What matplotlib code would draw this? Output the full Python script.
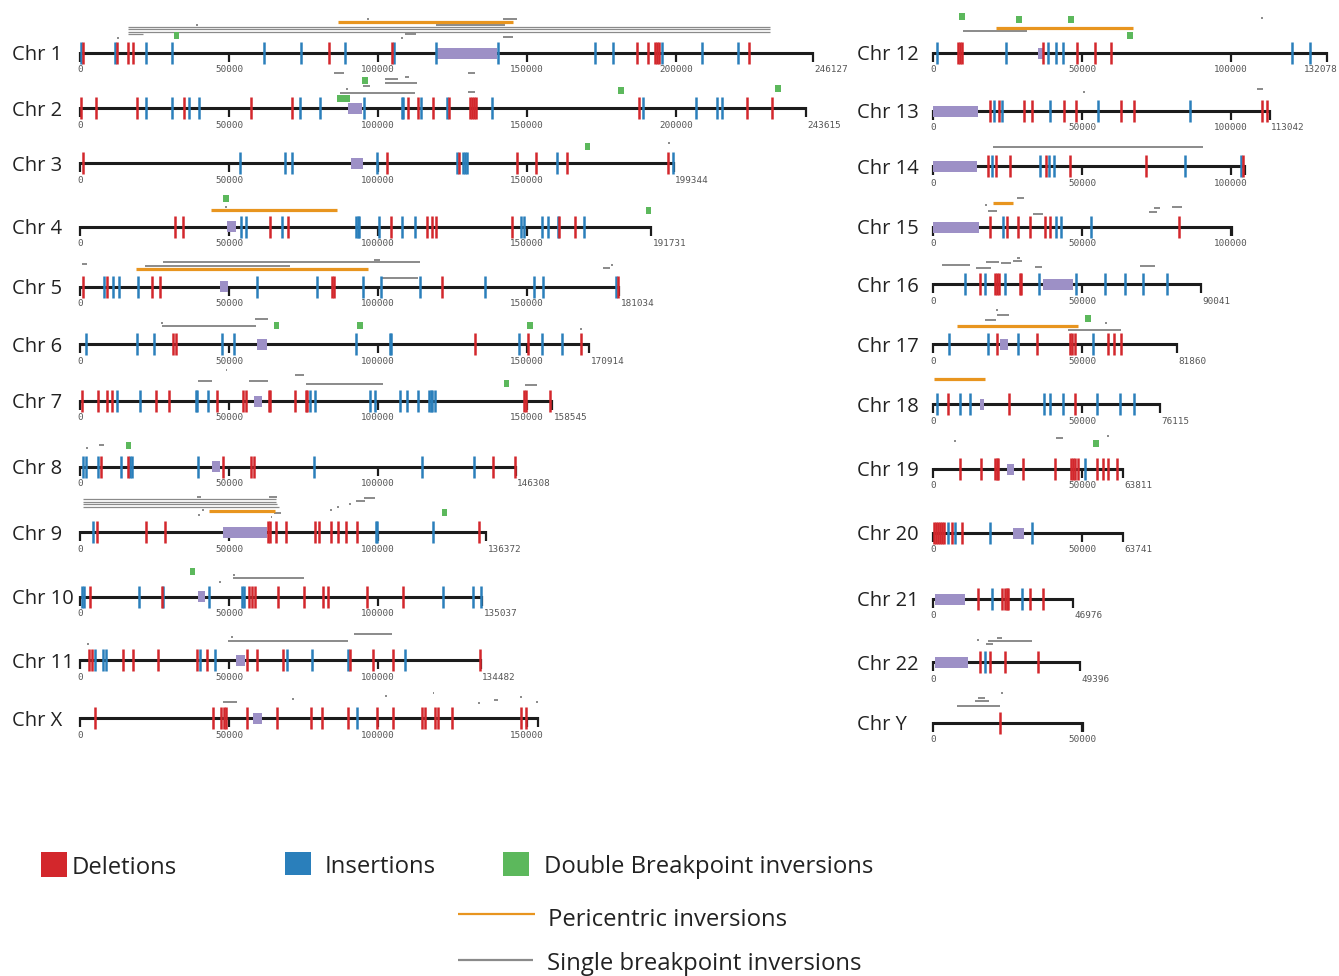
import matplotlib
matplotlib.use("Agg")
import matplotlib.pyplot as plt

# ── data (positions in bp) ───────────────────────────────────────────────────

left_chroms = ["1", "2", "3", "4", "5", "6", "7", "8", "9", "10", "11", "X"]
right_chroms = ["12", "13", "14", "15", "16", "17", "18", "19", "20", "21", "22", "Y"]

lengths = {
    "1": 246127, "2": 243615, "3": 199344, "4": 191731, "5": 181034, "6": 170914,
    "7": 158545, "8": 146308, "9": 136372, "10": 135037, "11": 134482, "X": 153800,
    "12": 132078, "13": 113042, "14": 104700, "15": 100300, "16": 90041, "17": 81860,
    "18": 76115, "19": 63811, "20": 63741, "21": 46976, "22": 49396, "Y": 50300,
}
# chromosomes whose length is printed at the end
length_labelled = ["1", "2", "3", "4", "5", "6", "7", "8", "9", "10", "11",
                   "12", "13", "16", "17", "18", "19", "20", "21", "22"]

deletions = {
    "1": [1100, 12500, 16000, 17700, 83660, 104700, 186800, 190600, 192900, 193600, 194300, 224400],
    "2": [335, 5260, 19000, 34900, 57280, 71040, 110200, 113500, 118300, 123900, 131000, 131600,
          132200, 132900, 187700, 224000, 232400],
    "3": [1100, 102900, 127200, 146500, 153000, 163600, 197200],
    "4": [31880, 34450, 63760, 69900, 104250, 116500, 118000, 119500, 145000, 160900, 166100],
    "5": [1100, 8950, 24250, 26850, 84600, 85100, 121400, 180700],
    "6": [31070, 32070, 132550, 150400, 168100],
    "7": [560, 5940, 8950, 10600, 25390, 29980, 46100, 54560, 55700, 63300, 63800, 72150, 75800,
          76300, 149100, 149600, 157700],
    "8": [6950, 16200, 47850, 57300, 58400, 138500, 145970],
    "9": [5800, 22000, 28500, 63000, 63700, 65800, 69130, 78860, 80300, 84200, 86450, 89150, 92800,
          134000],
    "10": [3360, 27400, 56700, 57800, 58830, 66550, 75170, 81650, 83330, 96200, 108500],
    "11": [3120, 3920, 14300, 17900, 26300, 39400, 42700, 56100, 59300, 68000, 90600, 98400,
           105100, 134300],
    "X": [5030, 44730, 47300, 48300, 49000, 56100, 66000, 77400, 81100, 89800, 99550, 105150,
          114650, 115770, 119130, 120240, 125000, 147900, 149700],
    "12": [8400, 9060, 9700, 36900, 48300, 54400, 59700],
    "13": [19100, 22100, 30500, 33200, 44000, 48000, 63100, 67400, 110400, 112000],
    "14": [18450, 21100, 25800, 37900, 46000, 71500, 104000],
    "15": [19100, 24800, 28500, 32600, 37600, 39300, 82600],
    "16": [15800, 20800, 21500, 22200, 29200, 29700],
    "17": [21500, 34900, 46000, 46700, 47700, 58700, 60700, 63100],
    "18": [5000, 25500, 47600],
    "19": [9060, 16100, 20800, 21400, 21800, 30200, 41000, 46300, 47000, 47650, 48700, 55000,
           57050, 58700, 61700],
    "20": [300, 1000, 1700, 2400, 3100, 3700, 6400, 9700],
    "21": [15100, 23300, 24000, 24700, 25300, 32600, 36900],
    "22": [15800, 19100, 24200, 35200],
    "Y": [22500],
}

insertions = {
    "1": [335, 11900, 22150, 31000, 61750, 74160, 88930, 105270, 119460, 140370, 172800, 179000,
          195400, 208700, 220700],
    "2": [22150, 30760, 36700, 39930, 73800, 80540, 95300, 107900, 108500, 114300, 123000, 138150,
          188800, 206600, 213900, 215300],
    "3": [53700, 68800, 71040, 99550, 126400, 128600, 129300, 130000, 160200, 199100],
    "4": [53900, 55700, 67680, 92600, 93200, 93700, 100300, 108150, 112400, 147900, 149100, 155200,
          156900, 160500, 169100],
    "5": [8150, 11200, 13100, 19600, 59300, 79400, 94850, 101000, 114100, 135900, 152400, 155500,
          179800],
    "6": [1900, 19000, 24800, 47550, 51800, 92600, 104000, 104400, 147300, 154900, 161600],
    "7": [12300, 20130, 38900, 39400, 43060, 77180, 78860, 97300, 99000, 107400, 109600, 113400,
          117200, 117700, 118100, 119100],
    "8": [900, 2000, 5940, 13600, 16900, 17400, 39500, 78600, 114650, 132200],
    "9": [4470, 99300, 99800, 118570],
    "10": [800, 1400, 19700, 27700, 43400, 54500, 55100, 121900, 132000, 134600],
    "11": [5030, 7800, 8600, 40300, 45300, 69550, 77700, 90000, 109060],
    "X": [93060],
    "12": [1300, 24500, 38600, 41300, 43600, 120500, 126500],
    "13": [20400, 23100, 39300, 55400, 86200],
    "14": [19700, 35900, 38900, 40600, 84600, 103500],
    "15": [23500, 41300, 42900, 53000],
    "16": [10700, 17500, 24200, 35600, 48000, 57700, 64400, 70500, 78500],
    "17": [5400, 18500, 28500, 53700],
    "18": [1300, 9000, 12400, 37200, 39300, 43600, 55000, 62800, 67400],
    "19": [51000],
    "20": [5000, 7400, 19100, 33200],
    "21": [19800, 29900],
    "22": [17500],
    "Y": [],
}

centromeres = {
    "1": (119800, 140000), "2": (90040, 94520), "3": (90800, 95000), "4": (49400, 52300),
    "5": (47000, 49800), "6": (59500, 62600), "7": (58400, 61100), "8": (44200, 47000),
    "9": (47850, 62600), "10": (39700, 41900), "11": (52350, 55370), "X": (58170, 61200),
    "12": (35200, 37200), "13": (0, 15100), "14": (0, 14800), "15": (0, 15400),
    "16": (36900, 47000), "17": (22500, 25200), "18": (15800, 17100), "19": (24800, 27200),
    "20": (26800, 30500), "21": (700, 10700), "22": (700, 11700),
}

double_bp = {
    "1": [(31400, 33100)],
    "2": [(86100, 90600), (94600, 96600), (180600, 182400), (233400, 235200)],
    "3": [(169400, 171200)],
    "4": [(48100, 49900), (189800, 191600)],
    "6": [(65100, 66900), (93100, 94900), (150100, 151900)],
    "7": [(142300, 144100)],
    "8": [(15300, 17100)],
    "9": [(121400, 123200)],
    "10": [(36800, 38600)],
    "12": [(8800, 10600), (28000, 29800), (45400, 47200), (65200, 67000)],
    "17": [(51100, 52900)],
    "19": [(53800, 55600)],
}

pericentric = {
    "1": [(86600, 145300)],
    "4": [(44100, 86400)],
    "5": [(18800, 96700)],
    "9": [(43300, 65400)],
    "12": [(21100, 67100)],
    "15": [(20100, 26800)],
    "17": [(8050, 48700)],
    "18": [(300, 17400)],
}

single_bp = {
    "1": [(16100, 231500), (16100, 231500), (16100, 231500), (16100, 21100), (119500, 142600),
          (142000, 146600), (109000, 112800), (142000, 145300), (39000, 39600), (12500, 13100),
          (107800, 108400), (96400, 97000)],
    "2": [(87250, 112400), (102300, 106700), (102300, 113000), (109200, 110500), (85400, 88700),
          (95000, 97300), (130300, 132700), (130300, 132700), (89300, 89900)],
    "3": [(197400, 198000)],
    "4": [(48700, 49300)],
    "5": [(600, 2200), (27900, 114100), (21800, 70500), (101000, 113500), (98500, 100800),
          (175500, 178000), (178300, 178900)],
    "6": [(27400, 59060), (58700, 63200), (27300, 27900), (167800, 168400)],
    "7": [(39700, 44200), (56800, 63200), (75800, 101600), (72000, 75200), (149300, 153500),
          (48900, 49500)],
    "8": [(6500, 8000), (2150, 2750)],
    "9": [(900, 65800), (900, 65800), (900, 66100), (900, 66800), (39400, 40600), (63400, 66000),
          (65000, 67400), (39700, 40300), (41100, 41700), (64000, 64600), (83900, 84500),
          (86200, 86800), (90300, 90900), (92600, 95650), (95300, 99000)],
    "10": [(51440, 75170), (46700, 47300), (51400, 52000)],
    "11": [(49800, 89800), (92050, 104600), (50600, 51200), (2300, 2900)],
    "X": [(47850, 52550), (138900, 140300), (71300, 71900), (102300, 102900), (118300, 118900),
          (133700, 134300), (147700, 148300), (153200, 153800)],
    "12": [(10100, 31500), (110100, 110700)],
    "13": [(108700, 110700), (50400, 51000)],
    "14": [(20100, 90600)],
    "15": [(28200, 30500), (18500, 21500), (33600, 37000), (74200, 76200), (72500, 75200),
           (80300, 83600), (17500, 18100)],
    "16": [(3000, 12400), (14400, 19500), (17800, 22100), (22800, 26200), (26900, 29900),
           (28200, 29200), (34200, 36600), (69500, 74500)],
    "17": [(45300, 63100), (21500, 25500), (17500, 21000), (21200, 21800), (57700, 58300)],
    "19": [(41300, 43600), (7100, 7700), (58400, 59000)],
    "22": [(18500, 33200), (21500, 23200), (17800, 20100), (14800, 15400)],
    "Y": [(8000, 22500), (14100, 18800), (15100, 17500), (22900, 23500)],
}

# ── layout (pixels) ──────────────────────────────────────────────────────────

W, H = 1339, 976
BP_PER_PX = 335.6
left_origin, right_origin = 80, 933
left_rows = [53, 108.3, 163.3, 226.7, 286.7, 344.3, 401, 466.7, 532.3, 596.7, 660, 718.3]
right_rows = [53, 111, 166, 227, 284, 344, 404, 469, 533, 599, 662, 723]

# vertical offset (px, negative = above the chromosome) of each inversion mark
double_bp_lane = {
    "1": [-17.5], "2": [-9.5, -27.8, -17.6, -20], "3": [-17.3], "4": [-28.4, -16],
    "6": [-19.3, -19.3, -19.3], "7": [-17.7], "8": [-21], "9": [-20], "10": [-25.7],
    "12": [-37, -34, -34, -18], "17": [-26], "19": [-26],
}
pericentric_lane = {
    "1": [-31], "4": [-16.7], "5": [-17.7], "9": [-21.3], "12": [-25], "15": [-24],
    "17": [-18], "18": [-25],
}
single_bp_lane = {
    "1": [-26, -23.6, -21.2, -18.8, -28, -34.4, -18.7, -16, -27.7, -15, -15, -34.4],
    "2": [-15.6, -29, -25.6, -31.6, -35, -22.3, -35, -16.6, -19],
    "3": [-20],
    "4": [-19.7],
    "5": [-22.4, -24.4, -20.7, -8.4, -26.7, -19, -22],
    "6": [-18.6, -25, -21.6, -15.3],
    "7": [-20.3, -20.3, -17, -26, -16, -31],
    "8": [-21.7, -19],
    "9": [-33, -30.5, -28, -25.5, -35.6, -35.6, -19, -17.3, -22.3, -15.6, -22.3, -25, -28.3,
          -31.3, -34.6],
    "10": [-18.4, -15, -21.7],
    "11": [-19.3, -25.7, -22.7, -16],
    "X": [-16.6, -18.3, -19.3, -22.3, -25.6, -15, -21, -16.6],
    "12": [-22, -35],
    "13": [-22, -19],
    "14": [-19],
    "15": [-29, -16, -13, -19, -15, -20, -22],
    "16": [-19, -16, -22, -21, -23, -26, -17, -18],
    "17": [-14, -29, -24, -34, -21],
    "19": [-31, -28, -33],
    "22": [-21, -24, -18, -22],
    "Y": [-17, -22, -25, -30],
}
# tightly stacked lines drawn thinner so they stay separate
thin_single = {"1": [0, 1, 2, 3], "9": [0, 1, 2, 3]}
# length labels that would run off the figure are right-aligned at the edge
edge_labels = {"12": 1338}

RED, BLUE, GREEN = "#d3272c", "#2a7fbb", "#5cb85c"
ORANGE, GREY, PURPLE, BLACK = "#e8951f", "#8a8a8a", "#9d90c6", "#1c1c1c"

plt.rcParams["font.family"] = ["Open Sans", "DejaVu Sans"]
fig = plt.figure(figsize=(W / 100, H / 100), dpi=100)
fig.patch.set_facecolor("white")


def column_axes(x0, x1, origin):
    ax = fig.add_axes([x0 / W, 0, (x1 - x0) / W, 1])
    ax.set_xlim((x0 - origin) * BP_PER_PX, (x1 - origin) * BP_PER_PX)
    ax.set_ylim(H, 0)
    ax.axis("off")
    return ax, origin


def draw_chrom(col, name, y):
    ax, origin = col
    L = lengths[name]
    small = dict(va="center", fontsize=6.7, family="DejaVu Sans Mono", color="#555555")
    ax.hlines(y, 0, L, color=BLACK, lw=2.2, zorder=2)
    ticks = list(range(0, L, 50000))
    ax.vlines(ticks + [L], y - 1, y + 9, color=BLACK, lw=1.6, zorder=2)
    for t in ticks:
        ax.text(t, y + 17, str(t), ha="center", **small)
    if name in length_labelled:
        if name in edge_labels:
            ax.text((edge_labels[name] - origin) * BP_PER_PX, y + 17, str(L), ha="right", **small)
        else:
            ax.text(L + 400, y + 17, str(L), ha="left", **small)

    if name in centromeres:
        s, e = centromeres[name]
        ax.broken_barh([(s, e - s)], (y - 5.5, 11), facecolor=PURPLE, zorder=3)

    ax.vlines(insertions.get(name, []), y - 11, y + 11, color=BLUE, lw=1.8, zorder=4)
    ax.vlines(deletions.get(name, []), y - 11, y + 11, color=RED, lw=1.8, zorder=5)

    thin = thin_single.get(name, [])
    for i, ((s, e), dy) in enumerate(zip(single_bp.get(name, []), single_bp_lane.get(name, []))):
        ax.hlines(y + dy, s, e, color=GREY, lw=0.9 if i in thin else 1.4, zorder=2)
    for (s, e), dy in zip(pericentric.get(name, []), pericentric_lane.get(name, [])):
        ax.hlines(y + dy, s, e, color=ORANGE, lw=2.3, zorder=3)
    for (s, e), dy in zip(double_bp.get(name, []), double_bp_lane.get(name, [])):
        ax.broken_barh([(s, e - s)], (y + dy - 3.5, 7), facecolor=GREEN, zorder=3)


col_l = column_axes(0, 845, left_origin)
col_r = column_axes(845, W, right_origin)
for name, y in zip(left_chroms, left_rows):
    draw_chrom(col_l, name, y)
for name, y in zip(right_chroms, right_rows):
    draw_chrom(col_r, name, y)

# labels and legend in pixel space
ov = fig.add_axes([0, 0, 1, 1], zorder=-1)
ov.set_xlim(0, W)
ov.set_ylim(H, 0)
ov.axis("off")
for name, y in zip(left_chroms, left_rows):
    ov.text(12, y + 7.5, f"Chr {name}", fontsize=14.5, color="#222222", va="baseline")
for name, y in zip(right_chroms, right_rows):
    ov.text(857, y + 7.5, f"Chr {name}", fontsize=14.5, color="#222222", va="baseline")

ov.broken_barh([(41, 26)], (852, 25), facecolor=RED)
ov.broken_barh([(285, 26)], (852, 23), facecolor=BLUE)
ov.broken_barh([(503, 26)], (852, 24), facecolor=GREEN)
ov.hlines(914, 458, 535, color=ORANGE, lw=1.6)
ov.hlines(960, 458, 533, color=GREY, lw=1.6)
lg = dict(fontsize=17.2, color="#222222", va="baseline")
ov.text(72, 874, "Deletions", **lg)
ov.text(325, 873, "Insertions", **lg)
ov.text(544, 873, "Double Breakpoint inversions", **lg)
ov.text(548, 926, "Pericentric inversions", **lg)
ov.text(547, 970, "Single breakpoint inversions", **lg)

fig.savefig("out.png", dpi=100, facecolor="white")
